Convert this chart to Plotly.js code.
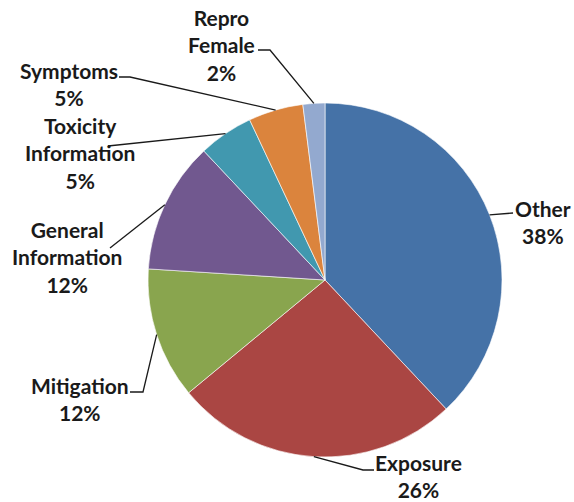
<!DOCTYPE html>
<html>
<head>
<meta charset="utf-8">
<script src="https://cdn.plot.ly/plotly-3.0.1.min.js"></script>
<style>html,body{margin:0;padding:0;background:#fff;}#chart{width:574px;height:502px;}</style>
</head>
<body>
<div id="chart"></div>
<script>
// ---- data ----
var categories = ["Other", "Exposure", "Mitigation", "General Information", "Toxicity Information", "Symptoms", "Repro Female"];
var labelLines = [["Other"], ["Exposure"], ["Mitigation"], ["General", "Information"], ["Toxicity", "Information"], ["Symptoms"], ["Repro", "Female"]];
var values = [38, 26, 12, 12, 5, 5, 2];
var colors = ["#4572A7", "#AA4643", "#89A54E", "#71588F", "#4198AF", "#DB843D", "#93A9CF"];

// ---- layout geometry (pixels) ----
var W = 574, H = 502;
var CX = 325, CY = 280, R = 177;
// label centres and leader line start / elbow (pixels)
var labelPos = [[543, 222], [418, 476], [80, 399], [67, 257], [80, 153], [69, 84], [221, 45]];
var leaderStart = [[513, 213], [374, 470], [130, 392], [110, 248], [108, 146], [119, 77], [258, 50]];
var leaderElbow = [[513, 213], [363, 470], [143, 392], [110, 248], [108, 146], [130, 77], [270, 50]];

function px(x) { return x / W; }
function py(y) { return 1 - y / H; }

var total = values.reduce(function (a, b) { return a + b; }, 0);
var annotations = [], shapes = [];
var cum = 0;
for (var i = 0; i < values.length; i++) {
  var mid = (cum + values[i] / 2) / total;
  cum += values[i];
  var th = mid * 2 * Math.PI;
  var ex = CX + R * Math.sin(th), ey = CY - R * Math.cos(th);
  var pct = Math.round(values[i] / total * 100) + "%";
  annotations.push({
    xref: "paper", yref: "paper",
    x: px(labelPos[i][0]), y: py(labelPos[i][1]),
    xanchor: "center", yanchor: "middle",
    text: labelLines[i].concat([pct]).join("<br>"),
    showarrow: false, align: "center",
    font: { family: "Lato, 'Open Sans', sans-serif", size: 21, color: "#1a1a1a", weight: 700 }
  });
  shapes.push({
    type: "path", xref: "paper", yref: "paper",
    path: "M" + px(leaderStart[i][0]) + "," + py(leaderStart[i][1]) +
          " L" + px(leaderElbow[i][0]) + "," + py(leaderElbow[i][1]) +
          " L" + px(ex) + "," + py(ey),
    line: { color: "#1a1a1a", width: 1.3 }
  });
}

var trace = {
  type: "pie",
  labels: categories,
  values: values,
  sort: false,
  direction: "clockwise",
  rotation: 0,
  textinfo: "none",
  hoverinfo: "label+percent",
  marker: { colors: colors, line: { color: "rgba(255,255,255,0.6)", width: 1 } },
  domain: { x: [(CX - R) / W, (CX + R) / W], y: [1 - (CY + R) / H, 1 - (CY - R) / H] }
};

var layout = {
  width: W, height: H,
  margin: { l: 0, r: 0, t: 0, b: 0 },
  showlegend: false,
  paper_bgcolor: "#ffffff",
  annotations: annotations,
  shapes: shapes
};

Plotly.newPlot("chart", [trace], layout, { displayModeBar: false, staticPlot: true });
</script>
</body>
</html>
